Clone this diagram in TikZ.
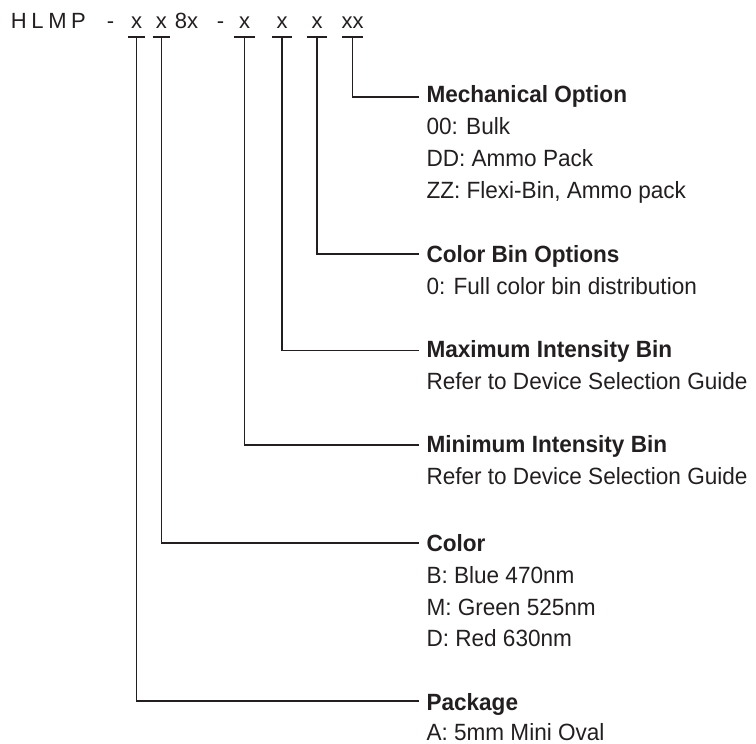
\documentclass[tikz,border=0pt]{standalone}
\usepackage{fontspec}
\setmainfont{Liberation Sans}
\newfontfamily\bodyfont[FakeStretch=0.96]{Liberation Sans}
\definecolor{ink}{HTML}{231F20}
\begin{document}
\begin{tikzpicture}[x=1pt,y=-1pt,
  lbl/.style={anchor=base west,inner sep=0pt,outer sep=0pt,text=ink,font=\bodyfont\fontsize{23.5}{27}\selectfont},
  head/.style={lbl,font=\bodyfont\fontsize{23.5}{27}\selectfont\bfseries},
  tl/.style={anchor=base,inner sep=0pt,outer sep=0pt,text=ink,font=\fontsize{22}{25}\selectfont},
  wire/.style={draw=ink,line width=1.3pt},
]
\useasboundingbox (0,0) rectangle (756,744);

% title
\node[tl] (tH) at (18.8,28.3) {H};
\node[tl] (tL) at (37.5,28.3) {L};
\node[tl] (tM) at (57.5,28.3) {M};
\node[tl] (tP) at (78.5,28.3) {P};
\node[tl] (td1) at (110.5,28.3) {-};
\node[tl] (tx1) at (136.5,28.3) {x};
\node[tl] (tx2) at (161.3,28.3) {x};
\node[tl] (t8x) at (186.5,28.3) {8x};
\node[tl] (td2) at (220.5,28.3) {-};
\node[tl] (tx3) at (244.5,28.3) {x};
\node[tl] (tx4) at (282,28.3) {x};
\node[tl] (tx5) at (317,28.3) {x};
\node[tl] (tx6) at (352.5,28.3) {xx};

% underlines
\foreach \n/\c/\w in {1/136.5/8.5, 2/161.3/8.5, 3/244.5/10.5, 4/282/10, 5/317/10, 6/352.5/10.5} {
  \coordinate (u\n) at (\c,37);
  \draw[wire] ([xshift=-\w pt]u\n) -- ([xshift=\w pt]u\n);
}

% line ends
\coordinate (e6) at (419,97);
\coordinate (e5) at (419,254);
\coordinate (e4) at (419,350.5);
\coordinate (e3) at (419,445);
\coordinate (e2) at (419,543);
\coordinate (e1) at (419,701);

\foreach \n in {1,...,6} { \draw[wire] (u\n) |- (e\n); }

% Mechanical Option
\node[head] (h6) at (426.5,102.7) {Mechanical Option};
\node[lbl] (h6a) at (426.5,134.9) {00: Bulk};
\node[lbl] (h6b) at (426.5,166.9) {DD: Ammo Pack};
\node[lbl] (h6c) at (426.5,198.6) {ZZ: Flexi-Bin, Ammo pack};

% Color Bin Options
\node[head] (h5) at (426.5,262.5) {Color Bin Options};
\node[lbl] (h5a) at (426.5,294.6) {0: Full color bin distribution};

% Maximum Intensity Bin
\node[head] (h4) at (426.5,357.8) {Maximum Intensity Bin};
\node[lbl] (h4a) at (426.5,389.8) {Refer to Device Selection Guide};

% Minimum Intensity Bin
\node[head] (h3) at (426.5,452.7) {Minimum Intensity Bin};
\node[lbl] (h3a) at (426.5,484.8) {Refer to Device Selection Guide};

% Color
\node[head] (h2) at (426.5,551.6) {Color};
\node[lbl] (h2a) at (426.5,583.4) {B: Blue 470nm};
\node[lbl] (h2b) at (426.5,615.0) {M: Green 525nm};
\node[lbl] (h2c) at (426.5,646.7) {D: Red 630nm};

% Package
\node[head] (h1) at (426.5,710) {Package};
\node[lbl] (h1a) at (426.5,740.8) {A: 5mm Mini Oval};
\end{tikzpicture}
\end{document}
